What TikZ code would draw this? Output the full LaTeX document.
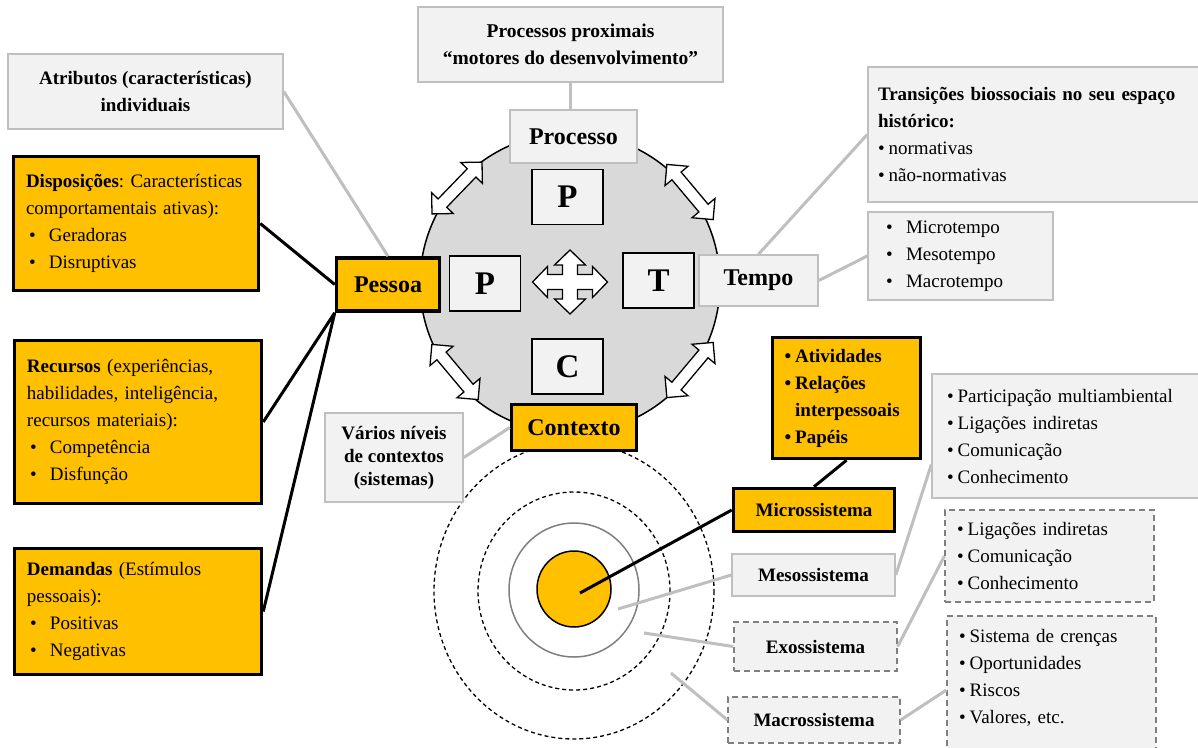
\documentclass[tikz,border=0pt]{standalone}
\usepackage{fontspec}
\setmainfont{Liberation Serif}
\frenchspacing

\definecolor{ouro}{HTML}{FFC000}
\definecolor{cinzaclaro}{HTML}{F2F2F2}
\definecolor{cinzaborda}{HTML}{BFBFBF}
\definecolor{cinzacirculo}{HTML}{D9D9D9}
\definecolor{cinzatraco}{HTML}{7F7F7F}

\newcommand{\txt}{\fontsize{19}{27}\selectfont}
\newcommand{\marca}{\hspace*{3pt}\makebox[20pt][l]{\textbullet}}
\newcommand{\ponto}{\textbullet\hspace{4pt}}

\tikzset{
  caixacinza/.style={draw=cinzaborda, line width=1.5pt, fill=cinzaclaro, font=\txt},
  caixaouro/.style={draw=black, line width=3.5pt, fill=ouro, font=\txt},
  caixatraco/.style={draw=cinzatraco, line width=1.3pt, dash pattern=on 6pt off 4pt, fill=cinzaclaro, font=\txt},
  letra/.style={draw=black, line width=1.5pt, fill=cinzaclaro, minimum width=71pt, minimum height=55pt, font=\bfseries\fontsize{33}{36}\selectfont},
  rotulo/.style={font=\bfseries\fontsize{24}{28}\selectfont},
  seta/.style={draw=black, line width=1.3pt, fill=white, line join=miter},
  ligacinza/.style={draw=cinzaborda, line width=3pt},
  ligapreta/.style={draw=black, line width=3pt},
  anel/.style={draw=black, line width=1.3pt, dash pattern=on 4pt off 3pt},
}

\begin{document}
\begin{tikzpicture}[x=1pt,y=1pt,yscale=-1,xscale=1]
\path[use as bounding box] (0,0) rectangle (1198,747);
\clip (0,0) rectangle (1198,747);

% PPCT circle
\draw[line width=1.5pt, fill=cinzacirculo] (570,283) circle (150);

% concentric systems
\draw[anel] (574,591) ellipse [x radius=140, y radius=148];
\draw[anel] (574,591) ellipse [x radius=96, y radius=99];
\draw[draw=cinzatraco, line width=1.5pt] (574,590) ellipse [x radius=65, y radius=67];
\draw[line width=1.5pt, fill=ouro] (574,589) ellipse [x radius=37, y radius=38];
\coordinate (nucleo) at (580,593);
\coordinate (anelmeso) at (618,609);
\coordinate (anelexo) at (644,633);
\coordinate (anelmacro) at (671,673);

% top
\node[caixacinza, minimum width=305pt, minimum height=75pt, align=center, font=\bfseries\fontsize{19.5}{27}\selectfont] (proximais) at (570.5,44.5) {Processos proximais\\“motores do desenvolvimento”};
\node[caixacinza, rotulo, minimum width=127pt, minimum height=53pt] (processo) at (573.5,136.5) {Processo};

% letters inside the circle
\node[letra] (pprocesso) at (567.5,197) {P};
\node[letra] (ppessoa) at (485,283.5) {P};
\node[letra] (ttempo) at (658.5,280.5) {T};
\node[letra] (ccontexto) at (567.5,366.5) {C};

\draw[seta, shift={(570,282)}] (0,-32) -- (15.5,-17) -- (7.5,-17) -- (7.5,-7.5) -- (22.5,-7.5) -- (22.5,-15.5) -- (37.5,0) -- (22.5,15.5) -- (22.5,7.5) -- (7.5,7.5) -- (7.5,17) -- (15.5,17) -- (0,32) -- (-15.5,17) -- (-7.5,17) -- (-7.5,7.5) -- (-22.5,7.5) -- (-22.5,15.5) -- (-37.5,0) -- (-22.5,-15.5) -- (-22.5,-7.5) -- (-7.5,-7.5) -- (-7.5,-17) -- (-15.5,-17) -- cycle;

% double arrows on the rim
\foreach \cx/\cy/\ang in {457/188/-46, 690/192/50, 455/372/50, 690/370/-50}
  \draw[seta, shift={(\cx,\cy)}, rotate=\ang] (-36,0) -- (-21,-15) -- (-21,-6) -- (21,-6) -- (21,-15) -- (36,0) -- (21,15) -- (21,6) -- (-21,6) -- (-21,15) -- cycle;

\node[caixaouro, rotulo, minimum width=103pt, minimum height=53pt] (pessoa) at (388,284.5) {Pessoa};
\node[caixacinza, rotulo, minimum width=119pt, minimum height=51pt] (tempo) at (758.5,280.5) {Tempo};
\node[caixaouro, rotulo, minimum width=125pt, minimum height=46pt] (contexto) at (574,427.5) {Contexto};

% person
\node[caixacinza, minimum width=275pt, minimum height=75pt, align=center, font=\bfseries\txt] (atributos) at (145.5,91.5) {Atributos (características)\\individuais};
\node[caixaouro, minimum width=245pt, minimum height=134pt, text width=220pt, align=left] (disposicoes) at (136,223.5) {\textbf{Disposições}: Características\\comportamentais ativas):\\\marca Geradoras\\\marca Disruptivas};
\node[caixaouro, minimum width=247pt, minimum height=163pt, text width=222pt, align=left] (recursos) at (138,422) {\textbf{Recursos} (experiências,\\habilidades, inteligência,\\recursos materiais):\\\marca Competência\\\marca Disfunção};
\node[caixaouro, minimum width=247pt, minimum height=126pt, text width=222pt, align=left] (demandas) at (138,611.5) {\textbf{Demandas} (Estímulos\\pessoais):\\\marca Positivas\\\marca Negativas};

% time
\node[caixacinza, minimum width=332pt, minimum height=135pt, text width=312pt, align=left] (transicoes) at (1034,134.5) {\textbf{\makebox[312pt][s]{Transições biossociais no seu espaço}}\\\textbf{histórico:}\\\ponto normativas\\\ponto não-normativas};
\node[caixacinza, minimum width=185pt, minimum height=88pt, text width=155pt, align=left] (microtempo) at (960.5,256) {\marca Microtempo\\\marca Mesotempo\\\marca Macrotempo};

% context
\node[caixacinza, minimum width=138pt, minimum height=89pt, align=center, font=\bfseries\fontsize{19}{23}\selectfont] (varios) at (394,457.5) {Vários níveis\\de contextos\\(sistemas)};
\node[caixaouro, minimum width=148pt, minimum height=121pt, text width=124pt, align=left, font=\bfseries\txt] (atividades) at (846.5,398) {\ponto Atividades\\\ponto Relações\\\phantom{\ponto}interpessoais\\\ponto Papéis};
\node[caixaouro, minimum width=161pt, minimum height=43pt, font=\bfseries\txt] (micro) at (814,510) {Microssistema};
\node[caixacinza, minimum width=163pt, minimum height=42pt, font=\bfseries\txt] (meso) at (813.5,575) {Mesossistema};
\node[caixatraco, minimum width=163pt, minimum height=49pt, font=\bfseries\txt] (exo) at (815.5,646.5) {Exossistema};
\node[caixatraco, minimum width=172pt, minimum height=46pt, font=\bfseries\txt] (macro) at (814,720) {Macrossistema};
\node[caixacinza, minimum width=268pt, minimum height=124pt, text width=238pt, align=left] (participacao) at (1066,436) {\ponto Participação multiambiental\\\ponto Ligações indiretas\\\ponto Comunicação\\\ponto Conhecimento};
\node[caixatraco, minimum width=209pt, minimum height=92pt, text width=185pt, align=left] (ligacoes) at (1049.5,556) {\ponto Ligações indiretas\\\ponto Comunicação\\\ponto Conhecimento};
\node[caixatraco, minimum width=209pt, minimum height=148pt, text width=185pt, align=left] (crencas) at (1051.5,690) {\ponto Sistema de crenças\\\ponto Oportunidades\\\ponto Riscos\\\ponto Valores, etc.\\\mbox{}};

% connectors
\draw[ligacinza] (proximais.south) -- (proximais.south |- processo.north);
\draw[ligacinza] (atributos.east) -- (pessoa.north);
\draw[ligapreta] (pessoa.west) -- (disposicoes.east);
\draw[ligapreta] (pessoa.south west) -- (recursos.east);
\draw[ligapreta] (pessoa.south west) -- (demandas.east);
\draw[ligacinza] (tempo.north) -- (transicoes.west);
\draw[ligacinza] (tempo.east) -- (microtempo.west);
\draw[ligacinza] (varios.east) -- (contexto.west);
\draw[ligapreta] (atividades.south) -- (micro.north);
\draw[ligapreta] (nucleo) -- (micro.west);
\draw[ligacinza] (anelmeso) -- (meso.west);
\draw[ligacinza] (anelexo) -- (exo.west);
\draw[ligacinza] (anelmacro) -- (macro.west);
\draw[ligacinza] (meso.east) -- (participacao.192);
\draw[ligacinza] (exo.east) -- (ligacoes.west);
\draw[ligacinza] (macro.east) -- (crencas.west);
\end{tikzpicture}
\end{document}
